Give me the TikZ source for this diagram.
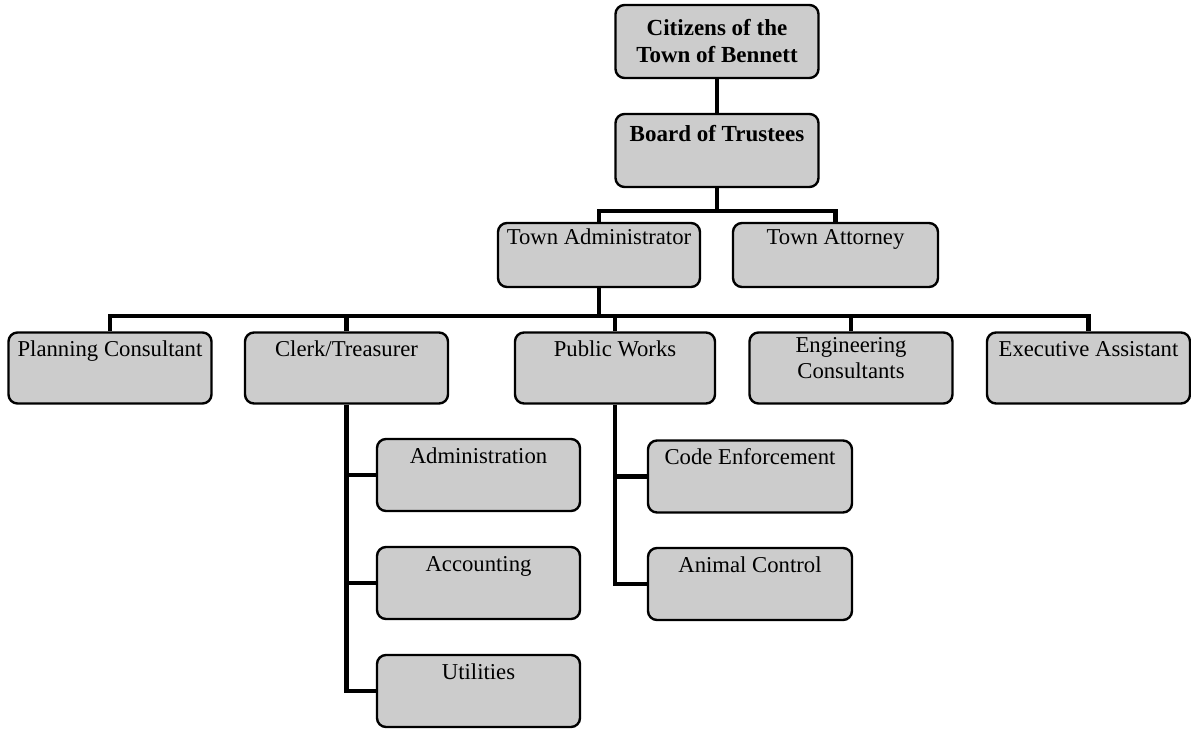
\documentclass[tikz,border=0pt]{standalone}
\usepackage{fontspec}
\setmainfont{Liberation Serif}

\begin{document}
\begin{tikzpicture}[x=1pt, y=-1pt,
    unit/.style={draw=black, line width=2.4pt, rounded corners=9pt, fill=black!20,
        minimum width=203pt, minimum height=72pt, inner sep=4pt, align=center,
        font=\fontsize{22.7}{26}\selectfont},
    boss/.style={font=\fontsize{23}{27}\selectfont\bfseries},
    oneline/.style={text height=20pt, text depth=#1},
    link/.style={line width=4.2pt, line join=miter}]
    \useasboundingbox (0,0) rectangle (1191,734);

    % Top of the chart
    \node[unit, boss, minimum height=73pt] (cit) at (717,41.5) {Citizens of the\\Town of Bennett};
    \node[unit, boss, minimum height=73pt, text height=23pt, text depth=42pt] (board) at (717,150.5) {Board of Trustees};

    % Second level
    \node[unit, minimum width=202pt, minimum height=64pt, text height=17pt, text depth=39pt] (admin) at (599,255) {Town Administrator};
    \node[unit, minimum width=205pt, minimum height=64pt, text height=17pt, text depth=39pt] (atty) at (835.5,255) {Town Attorney};

    % Departments
    \node[unit, minimum height=71pt, oneline=43pt] (plan) at (110,368) {Planning Consultant};
    \node[unit, minimum height=71pt, oneline=43pt] (clerk) at (346.5,368) {Clerk/Treasurer};
    \node[unit, minimum width=200pt, minimum height=71pt, oneline=43pt] (pw) at (615,368) {Public Works};
    \node[unit, minimum height=71pt, text height=42pt, text depth=21pt] (eng) at (851,368) {Engineering\\Consultants};
    \node[unit, minimum height=71pt, oneline=43pt] (exec) at (1088.5,368) {Executive Assistant};

    % Divisions under Clerk/Treasurer
    \node[unit, oneline=44pt] (office) at (478.5,475) {Administration};
    \node[unit, oneline=44pt] (acct) at (478.5,583) {Accounting};
    \node[unit, oneline=44pt] (util) at (478.5,691) {Utilities};

    % Divisions under Public Works
    \node[unit, minimum width=204pt, oneline=44pt] (code) at (750,476.5) {Code Enforcement};
    \node[unit, minimum width=204pt, oneline=44pt] (animal) at (750,584) {Animal Control};

    % Bus lines
    \coordinate (busA) at (717,211);
    \coordinate (busB) at (599,316);

    % Connect the boxes
    \draw[link] (cit) -- (board);
    \draw[link] (board) -- (busA);
    \draw[link] (admin.north) |- (busA) -| (atty.north);
    \draw[link] (admin) -- (busB);
    \draw[link] (plan.north) |- (busB) -| (exec.north);
    \draw[link] (clerk.north) -- (clerk.north |- busB);
    \draw[link] (pw.north) -- (pw.north |- busB);
    \draw[link] (eng.north) -- (eng.north |- busB);

    % Branches down the left side of the boxes
    \draw[link] (clerk.south) |- (util.west);
    \draw[link] (clerk.south |- office.west) -- (office.west);
    \draw[link] (clerk.south |- acct.west) -- (acct.west);
    \draw[link] (pw.south) |- (animal.west);
    \draw[link] (pw.south |- code.west) -- (code.west);
\end{tikzpicture}
\end{document}
